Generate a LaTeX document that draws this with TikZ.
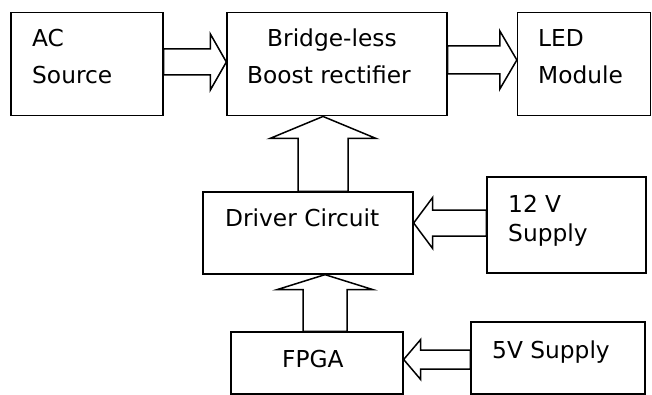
\documentclass[tikz,border=0pt]{standalone}
\usepackage{fontspec}
\setmainfont{DejaVu Sans}
\usetikzlibrary{calc}
\tikzset{
  box/.style={draw=black, line width=1.3pt, rectangle, inner sep=0pt, fill=white},
  lbl/.style={anchor=base west, inner sep=0pt, font=\fontsize{23.3}{26}\selectfont},
  blk/.style={draw=black, line width=1.5pt, fill=white, line join=miter},
}
% horizontal block arrow: #1 tail coord, #2 tip coord, #3 half shaft, #4 half head, #5 signed head length
\newcommand\harr[5]{\draw[blk] ($(#1)+(0,-#3)$) -- ($(#2)+({-1*(#5)},-#3)$) -- ($(#2)+({-1*(#5)},-#4)$) -- (#2) -- ($(#2)+({-1*(#5)},#4)$) -- ($(#2)+({-1*(#5)},#3)$) -- ($(#1)+(0,#3)$) -- cycle;}
% vertical (upward) block arrow
\newcommand\varr[5]{\draw[blk] ($(#1)+(-#3,0)$) -- ($(#2)+(-#3,#5)$) -- ($(#2)+(-#4,#5)$) -- (#2) -- ($(#2)+(#4,#5)$) -- ($(#2)+(#3,#5)$) -- ($(#1)+(#3,0)$) -- cycle;}
\begin{document}
\begin{tikzpicture}[x=1pt,y=-1pt]
\useasboundingbox (0,0) rectangle (652,395);
\fill[white] (0,0) rectangle (652,395);
% boxes
\node[box, minimum width=152pt, minimum height=103pt] (ac) at (87,64.3) {};
\node[box, minimum width=220pt, minimum height=103pt] (br) at (337,64.3) {};
\node[box, minimum width=133pt, minimum height=103pt] (led) at (584,64.3) {};
\node[box, minimum width=210pt, minimum height=82pt] (drv) at (308,233) {};
\node[box, minimum width=159pt, minimum height=96pt] (v12) at (566.5,225) {};
\node[box, minimum width=172pt, minimum height=62pt] (fpga) at (317,363) {};
\node[box, minimum width=174pt, minimum height=72pt] (v5) at (558,358) {};
% labels
\node[lbl] (tac1) at (32,46.7) {AC};
\node[lbl] (tac2) at (32,83.5) {Source};
\node[lbl] (tbr1) at (267,46.7) {Bridge-less};
\node[lbl] (tbr2) at (247,83.5) {Boost rectifier};
\node[lbl] (tled1) at (538,46.7) {LED};
\node[lbl] (tled2) at (538,83.5) {Module};
\node[lbl] (tdrv) at (225,226) {Driver Circuit};
\node[lbl] (t12a) at (508,212) {12 V};
\node[lbl] (t12b) at (508,241) {Supply};
\node[lbl] (tfpga) at (282,367.5) {FPGA};
\node[lbl] (t5v) at (492,358.5) {5V Supply};
% arrow end points
\coordinate (a1s) at (ac.east |- 0,62);
\coordinate (a1e) at (br.west |- 0,62);
\coordinate (a2s) at (br.east |- 0,60);
\coordinate (a2e) at (led.west |- 0,60);
\coordinate (a3s) at (drv.north -| 323,0);
\coordinate (a3e) at (br.south -| 323,0);
\coordinate (a4s) at (v12.west |- 0,223);
\coordinate (a4e) at (drv.east |- 0,223);
\coordinate (a5s) at (fpga.north -| 325,0);
\coordinate (a5e) at (drv.south -| 325,0);
\coordinate (a6s) at (v5.west |- 0,359.5);
\coordinate (a6e) at (fpga.east |- 0,359.5);
% arrows
\harr{a1s}{a1e}{13}{28}{16}
\harr{a2s}{a2e}{14}{29}{17}
\varr{a3s}{a3e}{25}{53}{22}
\harr{a4s}{a4e}{13}{25.5}{-19}
\varr{a5s}{a5e}{22}{48}{15}
\harr{a6s}{a6e}{9.5}{20}{-17}
\end{tikzpicture}
\end{document}
